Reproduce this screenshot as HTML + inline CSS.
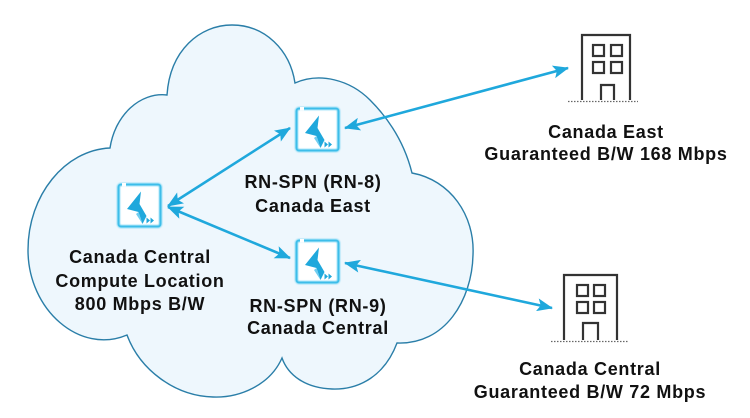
<!DOCTYPE html>
<html>
<head>
<meta charset="utf-8">
<style>
  html,body{margin:0;padding:0;background:#fff;}
  svg{display:block;}
  text{font-family:"Liberation Sans",Arial,sans-serif;font-weight:bold;font-size:18px;fill:#111;letter-spacing:0.7px;}
</style>
</head>
<body>
<svg width="750" height="418" viewBox="0 0 750 418" xmlns="http://www.w3.org/2000/svg">
  <defs>
    <marker id="ah" viewBox="0 0 16 13" refX="15" refY="6.5" markerWidth="16" markerHeight="13" markerUnits="userSpaceOnUse" orient="auto-start-reverse">
      <path d="M0,0 L16,6.5 L0,13 L3.5,6.5 Z" fill="#1fa8dc"/>
    </marker>
    <filter id="glow" x="-20%" y="-20%" width="140%" height="140%">
      <feGaussianBlur stdDeviation="0.8"/>
    </filter>
    <g id="icon">
      <rect x="0" y="0" width="45" height="45" rx="3" fill="#fff"/>
      <rect x="1.5" y="1.5" width="42" height="42" rx="2.5" fill="none" stroke="#5ccbf0" stroke-width="3" filter="url(#glow)"/>
      <rect x="1.5" y="1.5" width="42" height="42" rx="2.5" fill="none" stroke="#3dbde9" stroke-width="1.6"/>
      <rect x="5" y="0" width="4" height="3.5" fill="#fff"/>
      <path d="M10,26 L24,8.5 L22.5,21 L29.5,33 L25.5,41 L21.5,29 Z" fill="#1fa8dc"/>
      <path d="M21.5,29 L25.5,41 L19,31 Z" fill="#6fcdf0"/>
      <path d="M29.5,34.5 L33,37.5 L29.5,40.5 Z M33.5,34.5 L37,37.5 L33.5,40.5 Z" fill="#1fa8dc"/>
    </g>
  </defs>

  <!-- Cloud -->
  <path d="M110,148
           C115,115 140,92 167,95
           C170,50 200,25 232,25
           C265,25 290,50 295,83
           C320,72 350,80 370,100
           C390,120 405,145 412,173
           C450,180 475,215 473,255
           C472,300 445,345 397,343
           C385,375 360,390 332,389
           C305,388 288,375 282,358
           C270,385 240,398 213,397
           C175,396 140,370 127,335
           C80,355 28,310 28,250
           C28,195 65,150 110,148 Z"
        fill="#eef7fd" stroke="#2a7ea8" stroke-width="1.4"/>

  <!-- Arrows -->
  <g stroke="#1fa8dc" stroke-width="2.6" fill="none">
    <line x1="168" y1="206" x2="290" y2="128" marker-start="url(#ah)" marker-end="url(#ah)"/>
    <line x1="168" y1="207" x2="290" y2="258" marker-start="url(#ah)" marker-end="url(#ah)"/>
    <line x1="345" y1="128" x2="568" y2="68" marker-start="url(#ah)" marker-end="url(#ah)"/>
    <line x1="345" y1="263" x2="552" y2="308" marker-start="url(#ah)" marker-end="url(#ah)"/>
  </g>

  <!-- Icons -->
  <use href="#icon" x="117" y="183"/>
  <use href="#icon" x="295" y="107"/>
  <use href="#icon" x="295" y="239"/>

  <!-- Building 1 -->
  <g fill="none" stroke="#333" stroke-width="2.2">
    <path d="M582,100 V35 H630 V100"/>
    <rect x="593" y="45" width="11" height="11"/>
    <rect x="611" y="45" width="11" height="11"/>
    <rect x="593" y="62" width="11" height="11"/>
    <rect x="611" y="62" width="11" height="11"/>
    <path d="M601,100 V85 H614 V100"/>
  </g>
  <line x1="568" y1="101.5" x2="638" y2="101.5" stroke="#666" stroke-width="1.2" stroke-dasharray="1.5,1.5"/>

  <!-- Building 2 -->
  <g fill="none" stroke="#333" stroke-width="2.2">
    <path d="M564,340 V275 H617 V340"/>
    <rect x="577" y="285" width="11" height="11"/>
    <rect x="594" y="285" width="11" height="11"/>
    <rect x="577" y="302" width="11" height="11"/>
    <rect x="594" y="302" width="11" height="11"/>
    <path d="M583,340 V323 H598 V340"/>
  </g>
  <line x1="551" y1="341.5" x2="628" y2="341.5" stroke="#666" stroke-width="1.2" stroke-dasharray="1.5,1.5"/>

  <!-- Labels -->
  <g text-anchor="middle">
    <text x="140" y="263">Canada Central</text>
    <text x="140" y="287">Compute Location</text>
    <text x="140" y="310">800 Mbps B/W</text>

    <text x="313" y="188">RN-SPN (RN-8)</text>
    <text x="313" y="212">Canada East</text>

    <text x="318" y="312">RN-SPN (RN-9)</text>
    <text x="318" y="334">Canada Central</text>

    <text x="606" y="138">Canada East</text>
    <text x="606" y="160">Guaranteed B/W 168 Mbps</text>

    <text x="590" y="375">Canada Central</text>
    <text x="590" y="398">Guaranteed B/W 72 Mbps</text>
  </g>
</svg>
</body>
</html>
